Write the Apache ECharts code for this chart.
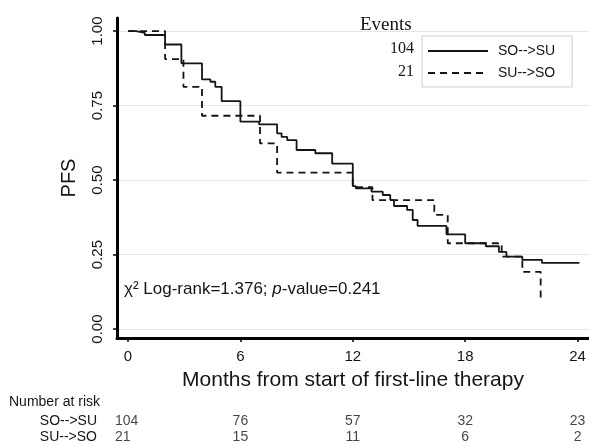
<!DOCTYPE html>
<html>
<head>
<meta charset="utf-8">
<script src="https://cdn.jsdelivr.net/npm/echarts@6/dist/echarts.min.js"></script>
<style>html,body{margin:0;padding:0;background:#fff;}#c{width:589px;height:446px;}</style>
</head>
<body>
<div id="c"></div>
<script>
// Kaplan-Meier PFS curves (time in months, survival probability)
var soTimes = [0, 0.43, 0.9, 1.98, 2.85, 3.95, 4.4, 4.66, 5.0, 6.0, 7.0, 7.96, 8.2, 8.5, 9.0, 10.0, 10.9, 12.0, 12.16, 13.0, 13.6, 14.0, 14.2, 14.9, 15.2, 15.46, 17.0, 18.0, 19.1, 19.8, 20.2, 21.05, 22.1, 24.1];
var soSurv  = [1.0, 0.994, 0.987, 0.955, 0.892, 0.838, 0.830, 0.813, 0.765, 0.696, 0.687, 0.657, 0.645, 0.634, 0.601, 0.590, 0.555, 0.48, 0.472, 0.461, 0.45, 0.433, 0.413, 0.40, 0.366, 0.346, 0.318, 0.288, 0.278, 0.259, 0.243, 0.232, 0.222, 0.222];
var suTimes = [0, 1.98, 2.96, 3.95, 7.05, 7.96, 12.0, 13.05, 16.35, 17.07, 19.95, 21.05, 22.03];
var suSurv  = [1.0, 0.906, 0.813, 0.716, 0.623, 0.525, 0.476, 0.433, 0.383, 0.288, 0.243, 0.192, 0.097];

var seriesNames = ['SO-->SU', 'SU-->SO'];
var eventCounts = [104, 21];
var xTicks = [0, 6, 12, 18, 24];
var yTicks = [0, 0.25, 0.5, 0.75, 1];
var riskTimes = [0, 6, 12, 18, 24];
var riskSOSU = [104, 76, 57, 32, 23];
var riskSUSO = [21, 15, 11, 6, 2];
var statText = 'Log-rank=1.376; ';
var pText = '-value=0.241';

function pairs(t, s) { return t.map(function (v, i) { return [v, s[i]]; }); }
function riskData(row, vals) {
  return riskTimes.map(function (t, i) {
    var d = { value: [t, row, vals[i]] };
    if (i === 0) d.label = { align: 'left', offset: [-13, 0] };
    return d;
  });
}

var SANS = '"Liberation Sans", Arial, Helvetica, sans-serif';
var SERIF = '"Liberation Serif", "Times New Roman", serif';
var INK = '#151515';

var chart = echarts.init(document.getElementById('c'), null, { renderer: 'canvas' });
chart.setOption({
  animation: false,
  backgroundColor: '#fff',
  grid: [
    { left: 117, right: 0, top: 18, bottom: 108 },
    { left: 117, right: 0, top: 412.5, height: 34 }
  ],
  xAxis: [
    {
      gridIndex: 0, type: 'value', min: -0.587, max: 24.61,
      name: 'Months from start of first-line therapy', nameLocation: 'middle', nameGap: 32,
      nameTextStyle: { fontFamily: SANS, fontSize: 21, color: INK },
      axisLine: { onZero: false, lineStyle: { color: '#000', width: 3 } },
      axisTick: { customValues: xTicks, length: 4, lineStyle: { color: '#000', width: 1.5 } },
      axisLabel: { customValues: xTicks, margin: 11, fontFamily: SANS, fontSize: 15, color: INK },
      splitLine: { show: false }
    },
    {
      gridIndex: 1, type: 'value', min: -0.587, max: 24.61, show: false
    }
  ],
  yAxis: [
    {
      gridIndex: 0, type: 'value', min: -0.03, max: 1.044,
      name: 'PFS', nameLocation: 'middle', nameGap: 38,
      nameTextStyle: { fontFamily: SANS, fontSize: 20, color: INK },
      axisLine: { show: true, onZero: false, lineStyle: { color: '#000', width: 3 } },
      axisTick: { show: true, customValues: yTicks, length: 4, lineStyle: { color: '#000', width: 1.5 } },
      axisLabel: { customValues: yTicks, rotate: 90, margin: 12, fontFamily: SANS, fontSize: 15, color: INK,
        formatter: function (v) { return v.toFixed(2); } },
      splitLine: { show: true, lineStyle: { color: '#e6e6e6', width: 1 } }
    },
    {
      gridIndex: 1, type: 'category', data: ['SU-->SO', 'SO-->SU'],
      axisLine: { show: false }, axisTick: { show: false }, splitLine: { show: false },
      axisLabel: { interval: 0, margin: 20, fontFamily: SANS, fontSize: 14, color: INK }
    }
  ],
  legend: {
    orient: 'vertical', left: 422, top: 36,
    padding: [8, 17, 7, 5], itemGap: 8, itemWidth: 60, itemHeight: 14,
    borderColor: '#cfcfcf', borderWidth: 1,
    itemStyle: { opacity: 0 },
    textStyle: { fontFamily: SANS, fontSize: 14, color: INK, padding: [0, 0, 0, 5] },
    data: seriesNames
  },
  graphic: [
    { type: 'text', left: 360, top: 16, style: { text: 'Events', fontFamily: SERIF, fontSize: 19, fill: INK } },
    { type: 'text', right: 589 - 414, top: 41, style: { text: String(eventCounts[0]), fontFamily: SERIF, fontSize: 16, fill: INK } },
    { type: 'text', right: 589 - 414, top: 64, style: { text: String(eventCounts[1]), fontFamily: SERIF, fontSize: 16, fill: INK } },
    { type: 'text', left: 124, top: 281, style: {
        text: '{n|χ² ' + statText + '}{i|p}{n|' + pText + '}',
        rich: {
          n: { fontFamily: SANS, fontSize: 17, fill: INK, color: INK },
          i: { fontFamily: SANS, fontSize: 17, fontStyle: 'italic', fill: INK, color: INK }
        }
      } },
    { type: 'text', left: 9, top: 395, style: { text: 'Number at risk', fontFamily: SANS, fontSize: 14, fill: INK } }
  ],
  series: [
    {
      name: seriesNames[0], type: 'line', step: 'end', symbol: 'none', xAxisIndex: 0, yAxisIndex: 0,
      lineStyle: { color: INK, width: 1.8, type: 'solid' }, itemStyle: { color: INK },
      data: pairs(soTimes, soSurv)
    },
    {
      name: seriesNames[1], type: 'line', step: 'end', symbol: 'none', xAxisIndex: 0, yAxisIndex: 0,
      lineStyle: { color: INK, width: 1.8, type: [7, 5] }, itemStyle: { color: INK },
      data: pairs(suTimes, suSurv)
    },
    {
      name: 'risk1', type: 'scatter', xAxisIndex: 1, yAxisIndex: 1, symbolSize: 0,
      label: { show: true, position: 'inside', fontFamily: SANS, fontSize: 14, color: INK,
        formatter: function (p) { return p.value[2]; } },
      data: riskData('SO-->SU', riskSOSU)
    },
    {
      name: 'risk2', type: 'scatter', xAxisIndex: 1, yAxisIndex: 1, symbolSize: 0,
      label: { show: true, position: 'inside', fontFamily: SANS, fontSize: 14, color: INK,
        formatter: function (p) { return p.value[2]; } },
      data: riskData('SU-->SO', riskSUSO)
    }
  ]
});
</script>
</body>
</html>
